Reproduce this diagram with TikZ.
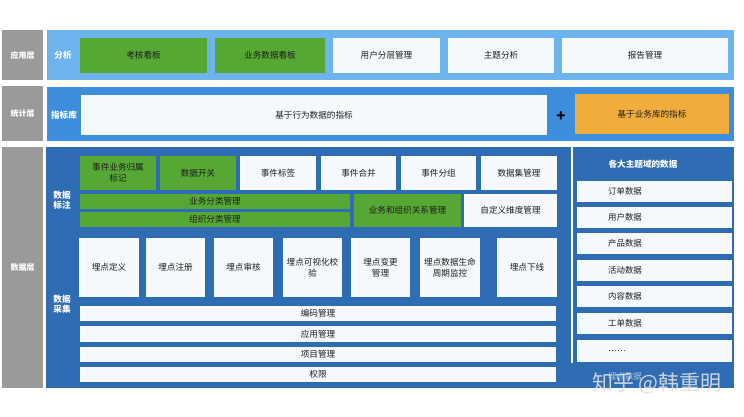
\documentclass[tikz,border=0pt]{standalone}
\usepackage{fontspec}
\setmainfont{Noto Sans CJK SC}
\definecolor{grayc}{HTML}{9A9A9A}
\definecolor{appblue}{HTML}{6DB4EF}
\definecolor{statblue}{HTML}{3E8EDE}
\definecolor{datablue}{HTML}{2E6DB3}
\definecolor{boxw}{HTML}{F5F8FC}
\definecolor{boxg}{HTML}{56A733}
\definecolor{boxo}{HTML}{F1AD3C}
\definecolor{txt}{HTML}{1E1E1E}
\tikzset{
  bx/.style={anchor=north west, inner sep=0pt, outer sep=0pt, align=center,
    font=\fontsize{8.6}{11}\selectfont, text=txt},
  wb/.style={bx, fill=boxw},
  gb/.style={bx, fill=boxg},
  ob/.style={bx, fill=boxo},
  panel/.style={bx},
  glbl/.style={panel, fill=grayc, text=white, font=\bfseries\fontsize{8}{10}\selectfont},
  lbl/.style={text=white, font=\bfseries\fontsize{8.6}{10.5}\selectfont, align=center, inner sep=0pt},
  rtxt/.style={anchor=west, inner sep=0pt, font=\fontsize{8.4}{10}\selectfont, text=txt},
}
\newcommand\bx[7]{\node[#1, minimum width={(#5-#3)*1pt}, minimum height={(#6-#4)*1pt}] (#2) at (#3,#4) {#7};}
\begin{document}
\begin{tikzpicture}[x=1pt,y=-1pt]
\useasboundingbox (0,0) rectangle (744,417);
\fill[white] (0,0) rectangle (744,417);
% left gray column
\bx{glbl}{gapp}{2}{30}{43}{80}{应用层}
\bx{glbl}{gstat}{2}{86}{43}{141}{统计层}
\bx{glbl}{gdata}{2}{147}{43}{388}{数据层}
% panels
\bx{panel, fill=appblue}{papp}{47}{30}{734}{80}{}
\bx{panel, fill=statblue}{pstat}{47}{87}{734}{141}{}
\bx{panel, fill=datablue}{pdata}{46}{147}{734}{388}{}
\draw[white, line width=2.5pt] (572,147) -- (572,363);
% app layer
\node[lbl] (lfx) at (63,55) {分析};
\bx{gb}{a1}{80}{38}{207}{73}{考核看板}
\bx{gb}{a2}{215}{38}{325}{73}{业务数据看板}
\bx{wb}{a3}{333}{38}{440}{73}{用户分层管理}
\bx{wb}{a4}{448}{38}{554}{73}{主题分析}
\bx{wb}{a5}{562}{38}{728}{73}{报告管理}
% stat layer
\node[lbl] (lzb) at (64,115) {指标库};
\bx{wb}{s1}{81}{95}{547}{135}{基于行为数据的指标}
\node[font=\bfseries\fontsize{15}{15}\selectfont, text=black, inner sep=0pt] (plus) at (561,117) {+};
\bx{ob}{s2}{575}{94}{729}{134}{基于业务库的指标}
% data layer labels
\node[lbl] (lbz) at (62,200) {数据\\标注};
\node[lbl] (lcj) at (62,304) {数据\\采集};
% row 1
\bx{gb}{d1}{80}{156}{156}{190}{事件业务归属\\标记}
\bx{gb}{d2}{160}{156}{236}{190}{数据开关}
\bx{wb}{d3}{240}{156}{316}{190}{事件标签}
\bx{wb}{d4}{321}{156}{396}{190}{事件合并}
\bx{wb}{d5}{401}{156}{476}{190}{事件分组}
\bx{wb}{d6}{481}{156}{557}{190}{数据集管理}
% row 2
\bx{gb}{e1}{80}{194}{350}{209}{业务分类管理}
\bx{gb}{e2}{80}{212}{350}{227}{组织分类管理}
\bx{gb}{e3}{354}{194}{461}{227}{业务和组织关系管理}
\bx{wb}{e4}{464}{194}{557}{227}{自定义维度管理}
% row 3
\bx{wb}{f1}{79}{238}{139}{297}{埋点定义}
\bx{wb}{f2}{146}{238}{205}{297}{埋点注册}
\bx{wb}{f3}{214}{238}{273}{297}{埋点审核}
\bx{wb}{f4}{283}{238}{342}{297}{埋点可视化校\\验}
\bx{wb}{f5}{351}{238}{410}{297}{埋点变更\\管理}
\bx{wb}{f6}{420}{238}{480}{297}{埋点数据生命\\周期监控}
\bx{wb}{f7}{497}{238}{557}{297}{埋点下线}
% bars
\bx{wb}{g1}{80}{306}{556}{321}{编码管理}
\bx{wb}{g2}{80}{326}{556}{342}{应用管理}
\bx{wb}{g3}{80}{347}{556}{362}{项目管理}
\bx{wb}{g4}{80}{367}{556}{382}{权限}
% right panel
\node[lbl] (rt) at (643,164) {各大主题域的数据};
\bx{wb}{r1}{577}{181}{732}{202}{}
\bx{wb}{r2}{577}{207}{732}{228}{}
\bx{wb}{r3}{577}{233}{732}{254}{}
\bx{wb}{r4}{577}{260}{732}{281}{}
\bx{wb}{r5}{577}{286}{732}{307}{}
\bx{wb}{r6}{577}{313}{732}{334}{}
\bx{wb}{r7}{577}{340}{732}{362}{}
\foreach \n/\t in {r1/订单数据,r2/用户数据,r3/产品数据,r4/活动数据,r5/内容数据,r6/工单数据,r7/……}
  \node[rtxt] (\n t) at ([xshift=31pt]\n.west) {\t};
\node[rtxt, text=white, opacity=0.6] (r8t) at (608,376) {埋点数据};
% watermark
\node[font=\fontsize{21}{21}\selectfont, text=gray!25, opacity=0.9, inner sep=0pt] (wm) at (657,383) {知乎 @韩重明};
\end{tikzpicture}
\end{document}
